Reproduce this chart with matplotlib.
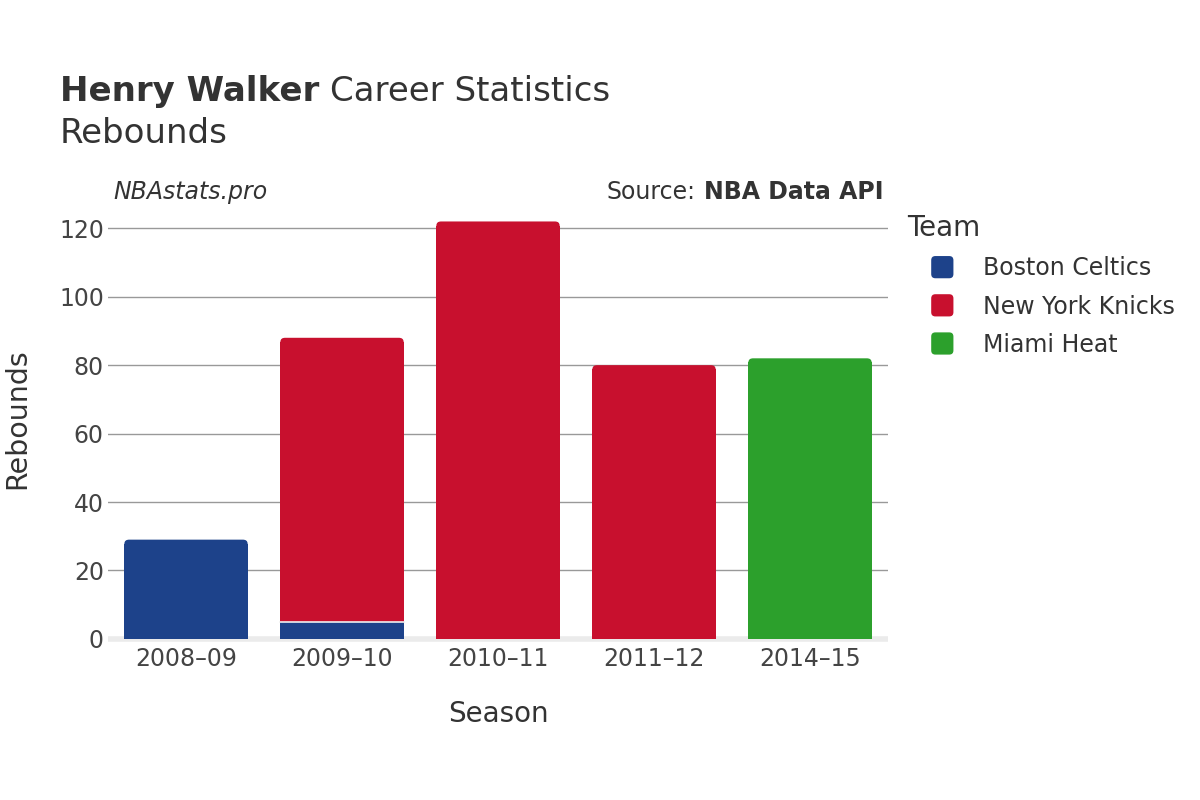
import matplotlib
matplotlib.use("Agg")
import matplotlib.pyplot as plt
from matplotlib.patches import FancyBboxPatch, Rectangle
from matplotlib.legend_handler import HandlerBase

plt.rcParams["font.family"] = ["DejaVu Sans"]

# data
seasons = ["2008\u201309", "2009\u201310", "2010\u201311", "2011\u201312", "2014\u201315"]
teams = ["Boston Celtics", "New York Knicks", "Miami Heat"]
colors = ["#1d428a", "#c8102e", "#2ca02c"]
boston = [29, 5, 0, 0, 0]
knicks = [0, 83, 122, 80, 0]
miami = [0, 0, 0, 0, 82]
series = [boston, knicks, miami]

txt = "#333333"
fig = plt.figure(figsize=(12, 8), dpi=100)
ax = fig.add_axes([0.09, 0.195, 0.65, 0.541])

x = list(range(len(seasons)))
totals = [sum(v) for v in zip(*series)]
bottom = [0] * len(seasons)
rs = 0.03      # corner radius in x units
asp = 40       # y units per x unit (approx)
for vals, col in zip(series, colors):
    bars = ax.bar(x, vals, width=0.79, bottom=bottom, color=col)
    for b, v, tot in zip(bars, vals, totals):
        b.remove()
        if v == 0:
            continue
        bx, by, bw, bh = b.get_x(), b.get_y(), b.get_width(), b.get_height()
        top = abs(by + bh - tot) < 1e-9
        if top:
            ax.add_patch(FancyBboxPatch((bx, by), bw, bh,
                                        boxstyle=f"round,pad=0,rounding_size={rs}",
                                        mutation_aspect=asp, facecolor=col,
                                        edgecolor="none", zorder=3))
            ax.add_patch(Rectangle((bx, by), bw, bh - rs * asp, facecolor=col,
                                   edgecolor="none", zorder=3))
        else:
            ax.add_patch(Rectangle((bx, by), bw, bh, facecolor=col,
                                   edgecolor="none", zorder=3))
        if by > 0:
            ax.plot([bx, bx + bw], [by, by], color="#f0f0f0", lw=1.2, zorder=4)
    bottom = [a + b for a, b in zip(bottom, vals)]

ax.set_xlim(-0.5, 4.5)
ax.set_ylim(-1.5, 125)
ax.set_yticks([0, 20, 40, 60, 80, 100, 120])
ax.set_xticks(x)
ax.set_xticklabels(seasons)
ax.tick_params(axis="both", length=0, labelsize=17, labelcolor="#444444")
ax.tick_params(axis="y", pad=3)
ax.tick_params(axis="x", pad=2.5)
for s in ax.spines.values():
    s.set_visible(False)
ax.grid(axis="y", color="#999999", linewidth=1, zorder=0)
ax.set_axisbelow(True)
ax.axhline(0, color="#ebebeb", linewidth=4, zorder=2)

fig.text(0.5 * (0.09 + 0.74), 1 - 722 / 800, "Season", ha="center", va="baseline",
         fontsize=20, color=txt)
fig.text(17 / 1200, 1 - 419 / 800, "Rebounds", rotation=90,
         ha="center", va="center", fontsize=20.5, color=txt)

# titles
t1 = fig.text(60 / 1200, 1 - 101 / 800, "Henry Walker", fontsize=24.5,
              fontweight="bold", color=txt, va="baseline")
fig.canvas.draw()
bb = t1.get_window_extent()
fig.text(bb.x1 / 1200 + 0.009, 1 - 101 / 800, "Career Statistics", fontsize=24.5,
         color=txt, va="baseline")
fig.text(60 / 1200, 1 - 143 / 800, "Rebounds", fontsize=24.5, color=txt,
         va="baseline")

fig.text(113 / 1200, 1 - 199 / 800, "NBAstats.pro", fontsize=17, style="italic",
         color=txt, va="baseline")
s2 = fig.text(884 / 1200, 1 - 199 / 800, "NBA Data API", fontsize=17,
              fontweight="bold", color=txt, va="baseline", ha="right")
fig.canvas.draw()
bb2 = s2.get_window_extent()
fig.text(bb2.x0 / 1200 - 0.0075, 1 - 199 / 800, "Source:", fontsize=17,
         color=txt, va="baseline", ha="right")


# legend with rounded square markers
class RoundSquare(HandlerBase):
    def create_artists(self, legend, orig, xd, yd, width, height, fontsize, trans):
        s = 16
        cx = xd + width / 2
        cy = yd + height / 2
        p = FancyBboxPatch((cx - s / 2, cy - s / 2), s, s,
                           boxstyle="round,pad=0,rounding_size=3",
                           facecolor=orig.get_facecolor(), edgecolor="none",
                           transform=trans)
        return [p]


handles = [Rectangle((0, 0), 1, 1, facecolor=c) for c in colors]
leg = fig.legend(handles, teams, loc="upper left",
                 bbox_to_anchor=(886 / 1200, 1 - 193 / 800), frameon=False,
                 title="Team", fontsize=17, title_fontsize=20,
                 labelspacing=0.6, handletextpad=0.25, handlelength=2.97,
                 alignment="left", handler_map={Rectangle: RoundSquare()})
for t in leg.get_texts():
    t.set_color(txt)
leg.get_title().set_color(txt)

fig.savefig("out.png", dpi=100)
